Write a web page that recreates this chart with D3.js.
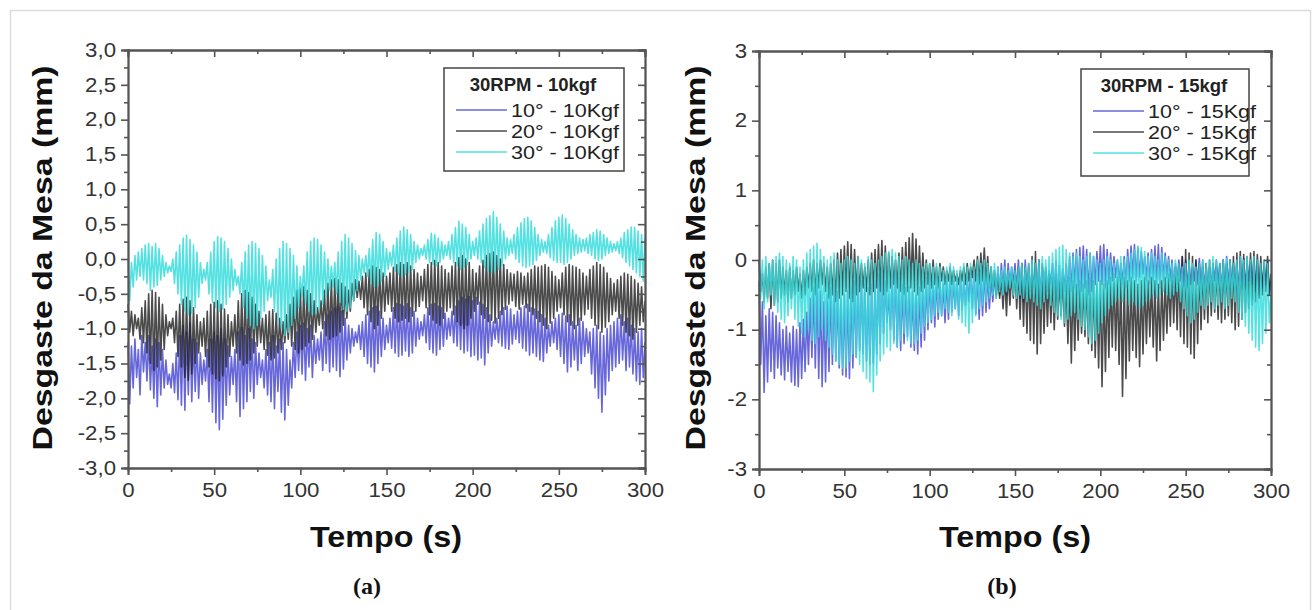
<!DOCTYPE html>
<html><head><meta charset="utf-8">
<script src="https://cdn.jsdelivr.net/npm/d3@7"></script>
<style>
body{margin:0;background:#fff}
svg{display:block}
text{font-family:"Liberation Sans",Arial,sans-serif}
</style>
</head><body>
<svg id="c" width="1312" height="610"></svg>
<script>
// ---------- data ----------
const timeStart = 0, timeStep = 1;          // seconds per sample
const xTicks = [0, 50, 100, 150, 200, 250, 300];
const xMinor = [25, 75, 125, 175, 225, 275];
const yTicksA = [-3, -2.5, -2, -1.5, -1, -0.5, 0, 0.5, 1, 1.5, 2, 2.5, 3];
const yMinorA = [-2.75, -2.25, -1.75, -1.25, -0.75, -0.25, 0.25, 0.75, 1.25, 1.75, 2.25, 2.75];
const yTicksB = [-3, -2, -1, 0, 1, 2, 3];
const yMinorB = [-2.5, -1.5, -0.5, 0.5, 1.5, 2.5];
const legendTitleA = "30RPM - 10kgf";
const legendTitleB = "30RPM - 15kgf";
const namesA = ["10° - 10Kgf", "20° - 10Kgf", "30° - 10Kgf"];
const namesB = ["10° - 15Kgf", "20° - 15Kgf", "30° - 15Kgf"];
const xTitle = "Tempo (s)";
const yTitle = "Desgaste da Mesa (mm)";

// (a) 30RPM - 10kgf
const a10 = [
-1.20,-2.08,-1.25,-1.85,-1.15,-1.70,-1.30,-1.95,-1.10,-1.62,
-1.20,-1.75,-1.10,-1.88,-1.25,-2.00,-1.15,-2.12,-1.20,-1.95,
-1.30,-1.85,-1.45,-1.80,-1.65,-1.85,-1.50,-1.92,-1.35,-2.02,
-1.10,-2.10,-0.95,-2.17,-1.05,-1.95,-0.92,-2.05,-1.15,-1.90,
-1.20,-2.00,-1.35,-1.80,-1.45,-1.75,-1.30,-2.05,-1.15,-2.20,
-1.05,-2.35,-1.10,-2.45,-1.00,-2.30,-1.15,-2.10,-1.25,-1.95,
-1.40,-1.80,-1.30,-2.05,-1.05,-2.26,-0.98,-2.15,-1.10,-2.05,
-1.00,-1.90,-1.15,-2.00,-1.20,-1.80,-1.35,-1.70,-1.45,-1.85,
-1.30,-1.95,-1.20,-2.05,-1.10,-2.15,-1.25,-1.90,-1.15,-2.20,
-1.20,-2.31,-1.30,-2.10,-1.45,-1.85,-1.20,-1.70,-1.05,-1.60,
-0.95,-1.65,-0.92,-1.74,-1.00,-1.55,-0.95,-1.70,-1.10,-1.50,
-1.15,-1.45,-1.05,-1.60,-0.90,-1.50,-0.80,-1.62,-0.75,-1.55,
-0.70,-1.60,-0.68,-1.69,-0.75,-1.58,-0.85,-1.45,-0.95,-1.35,
-1.00,-1.25,-1.05,-1.20,-0.95,-1.30,-0.90,-1.40,-0.80,-1.50,
-0.75,-1.55,-0.70,-1.62,-0.68,-1.50,-0.75,-1.40,-0.85,-1.30,
-0.95,-1.20,-0.85,-1.28,-0.70,-1.35,-0.64,-1.40,-0.65,-1.38,
-0.68,-1.32,-0.64,-1.40,-0.70,-1.35,-0.75,-1.25,-0.85,-1.15,
-0.90,-1.10,-0.80,-1.20,-0.70,-1.30,-0.65,-1.35,-0.64,-1.38,
-0.68,-1.30,-0.70,-1.25,-0.78,-1.15,-0.85,-1.10,-0.75,-1.20,
-0.68,-1.25,-0.60,-1.30,-0.55,-1.35,-0.58,-1.32,-0.54,-1.40,
-0.60,-1.38,-0.55,-1.45,-0.62,-1.42,-0.65,-1.52,-0.70,-1.35,
-0.80,-1.25,-0.90,-1.15,-0.85,-1.20,-0.75,-1.25,-0.70,-1.28,
-0.68,-1.30,-0.72,-1.22,-0.80,-1.15,-0.75,-1.20,-0.70,-1.28,
-0.68,-1.32,-0.65,-1.38,-0.70,-1.35,-0.72,-1.40,-0.75,-1.45,
-0.80,-1.47,-0.85,-1.35,-0.95,-1.25,-0.90,-1.20,-0.85,-1.30,
-0.80,-1.40,-0.78,-1.50,-0.82,-1.62,-0.80,-1.55,-0.90,-1.45,
-0.95,-1.60,-0.85,-1.50,-0.90,-1.40,-1.00,-1.35,-1.05,-1.65,
-1.00,-1.85,-0.95,-2.00,-1.05,-2.20,-1.10,-1.95,-1.00,-1.75,
-0.95,-1.60,-0.90,-1.55,-0.85,-1.50,-0.80,-1.45,-0.90,-1.60,
-0.85,-1.55,-0.95,-1.65,-1.00,-1.75,-1.05,-1.80,-1.00,-1.70,
-1.20];
const a20 = [
-0.65,-1.05,-0.75,-1.10,-0.80,-1.00,-0.85,-1.15,-0.70,-1.20,
-0.60,-1.35,-0.50,-1.50,-0.45,-1.60,-0.48,-1.55,-0.55,-1.45,
-0.65,-1.30,-0.80,-1.10,-0.90,-1.00,-0.85,-1.20,-0.75,-1.40,
-0.65,-1.55,-0.58,-1.70,-0.55,-1.74,-0.60,-1.65,-0.70,-1.50,
-0.80,-1.35,-0.90,-1.25,-0.85,-1.40,-0.75,-1.55,-0.65,-1.65,
-0.62,-1.72,-0.60,-1.75,-0.65,-1.68,-0.72,-1.55,-0.80,-1.40,
-0.90,-1.25,-0.80,-1.35,-0.60,-1.45,-0.50,-1.52,-0.45,-1.50,
-0.48,-1.45,-0.55,-1.35,-0.65,-1.25,-0.75,-1.20,-0.85,-1.30,
-0.80,-1.38,-0.75,-1.45,-0.73,-1.42,-0.78,-1.35,-0.85,-1.30,
-0.90,-1.20,-0.80,-1.15,-0.65,-1.25,-0.55,-1.30,-0.45,-1.35,
-0.42,-1.30,-0.40,-1.25,-0.45,-1.20,-0.50,-1.15,-0.60,-1.05,
-0.70,-0.95,-0.60,-1.00,-0.45,-1.10,-0.35,-1.15,-0.30,-1.12,
-0.28,-1.10,-0.30,-1.05,-0.35,-0.95,-0.40,-0.85,-0.45,-0.75,
-0.35,-0.60,-0.30,-0.55,-0.32,-0.58,-0.25,-0.70,-0.20,-0.80,
-0.15,-0.90,-0.10,-1.00,-0.12,-0.95,-0.15,-0.85,-0.20,-0.75,
-0.25,-0.65,-0.20,-0.75,-0.12,-0.85,-0.08,-0.90,-0.05,-0.88,
-0.08,-0.85,-0.05,-0.90,-0.10,-0.82,-0.15,-0.75,-0.20,-0.68,
-0.25,-0.60,-0.15,-0.70,-0.08,-0.80,-0.05,-0.88,-0.02,-0.92,
-0.05,-0.95,-0.10,-0.85,-0.15,-0.75,-0.20,-0.70,-0.10,-0.80,
-0.05,-0.90,0.02,-0.95,0.05,-1.00,0.00,-0.95,-0.05,-0.85,
-0.15,-0.75,-0.20,-0.65,-0.10,-0.80,-0.02,-0.85,0.05,-0.90,
0.08,-0.88,0.10,-0.92,0.05,-0.85,0.00,-0.80,-0.08,-0.72,
-0.15,-0.65,-0.20,-0.60,-0.22,-0.68,-0.18,-0.72,-0.20,-0.65,
-0.25,-0.70,-0.20,-0.75,-0.15,-0.80,-0.10,-0.85,-0.12,-0.90,
-0.10,-0.95,-0.08,-1.00,-0.12,-0.92,-0.18,-0.85,-0.25,-0.75,
-0.30,-0.70,-0.20,-0.80,-0.12,-0.90,-0.08,-0.95,-0.10,-1.00,
-0.12,-0.95,-0.15,-0.88,-0.20,-0.80,-0.25,-0.72,-0.15,-0.85,
-0.10,-0.95,-0.05,-1.00,-0.08,-1.05,-0.12,-0.98,-0.20,-0.90,
-0.28,-0.80,-0.35,-0.75,-0.30,-0.85,-0.25,-0.95,-0.20,-1.05,
-0.22,-1.10,-0.25,-1.15,-0.30,-1.05,-0.35,-0.95,-0.40,-0.90,
-0.60];
const a30 = [
0.00,-0.60,-0.05,-0.40,0.05,-0.30,0.10,-0.25,0.15,-0.30,
0.20,-0.35,0.22,-0.45,0.18,-0.40,0.22,-0.38,0.15,-0.30,
0.05,-0.25,-0.05,-0.20,-0.10,-0.18,0.00,-0.35,0.10,-0.50,
0.20,-0.65,0.30,-0.75,0.34,-0.80,0.28,-0.78,0.20,-0.70,
0.10,-0.55,-0.05,-0.35,-0.15,-0.30,-0.05,-0.50,0.10,-0.62,
0.25,-0.70,0.32,-0.75,0.30,-0.72,0.25,-0.65,0.15,-0.55,
0.00,-0.45,-0.15,-0.38,-0.25,-0.50,-0.05,-0.70,0.10,-0.85,
0.20,-0.95,0.25,-1.00,0.22,-0.95,0.15,-0.85,0.05,-0.75,
-0.10,-0.60,-0.30,-0.55,-0.15,-0.75,0.00,-0.90,0.15,-1.00,
0.25,-1.10,0.22,-1.05,0.15,-0.95,0.05,-0.85,-0.10,-0.70,
-0.25,-0.55,-0.10,-0.65,0.10,-0.75,0.25,-0.80,0.30,-0.78,
0.28,-0.72,0.20,-0.65,0.10,-0.55,0.00,-0.45,-0.10,-0.40,
-0.05,-0.50,0.10,-0.62,0.25,-0.72,0.35,-0.75,0.30,-0.70,
0.22,-0.60,0.12,-0.45,0.05,-0.30,0.00,-0.20,0.05,-0.25,
0.15,-0.35,0.28,-0.40,0.38,-0.38,0.35,-0.32,0.25,-0.25,
0.15,-0.15,0.10,-0.10,0.20,-0.18,0.30,-0.22,0.40,-0.25,
0.46,-0.22,0.42,-0.20,0.35,-0.15,0.25,-0.05,0.20,0.00,
0.15,0.05,0.20,0.00,0.28,-0.05,0.37,-0.08,0.35,-0.10,
0.30,-0.05,0.25,0.00,0.20,0.05,0.25,0.00,0.35,-0.05,
0.45,-0.10,0.54,-0.15,0.50,-0.12,0.45,-0.08,0.35,0.00,
0.25,0.05,0.30,0.00,0.40,-0.05,0.50,-0.12,0.58,-0.18,
0.62,-0.20,0.68,-0.18,0.60,-0.15,0.50,-0.10,0.40,0.00,
0.30,0.05,0.28,0.08,0.35,0.00,0.45,-0.05,0.52,-0.10,
0.58,-0.12,0.60,-0.10,0.55,-0.08,0.45,-0.02,0.35,0.05,
0.28,0.10,0.25,0.08,0.35,0.02,0.45,-0.02,0.55,-0.05,
0.60,-0.05,0.63,-0.08,0.58,-0.05,0.50,0.00,0.42,0.05,
0.35,0.08,0.30,0.10,0.28,0.12,0.30,0.08,0.35,0.05,
0.38,0.00,0.42,-0.02,0.40,0.00,0.35,0.05,0.30,0.08,
0.25,0.10,0.22,0.12,0.25,0.08,0.30,0.02,0.38,-0.05,
0.42,-0.10,0.46,-0.15,0.45,-0.20,0.40,-0.25,0.35,-0.32,
0.30];

// (b) 30RPM - 15kgf
const b10 = [
-0.30,-1.50,-0.60,-1.90,-0.80,-1.75,-0.70,-1.60,-0.75,-1.70,
-0.80,-1.55,-0.90,-1.65,-1.00,-1.72,-0.95,-1.60,-1.05,-1.75,
-0.95,-1.80,-1.00,-1.82,-0.90,-1.70,-0.85,-1.60,-0.75,-1.50,
-0.55,-1.40,-0.40,-1.55,-0.35,-1.70,-0.45,-1.82,-0.60,-1.75,
-0.50,-1.60,-0.40,-1.50,-0.35,-1.45,-0.45,-1.55,-0.55,-1.65,
-0.50,-1.68,-0.45,-1.70,-0.40,-1.55,-0.30,-1.40,-0.25,-1.30,
-0.30,-1.35,-0.35,-1.45,-0.40,-1.50,-0.35,-1.48,-0.30,-1.35,
-0.20,-1.20,-0.10,-1.05,-0.30,-0.90,-0.50,-1.00,-0.20,-1.15,
-0.15,-1.25,-0.25,-1.30,-0.35,-1.20,-0.40,-1.10,-0.38,-1.25,
-0.45,-1.30,-0.50,-1.35,-0.40,-1.25,-0.30,-1.15,-0.25,-1.00,
-0.25,-0.90,-0.30,-0.96,-0.24,-0.85,-0.30,-0.80,-0.35,-0.90,
-0.25,-0.85,-0.20,-0.75,-0.30,-0.70,-0.25,-0.80,-0.20,-0.72,
-0.30,-0.65,-0.25,-0.60,-0.15,-0.70,-0.10,-0.78,-0.20,-0.85,
-0.15,-0.80,-0.10,-0.75,-0.20,-0.70,-0.25,-0.60,-0.20,-0.55,
-0.10,-0.50,-0.05,-0.45,0.00,-0.50,-0.05,-0.40,-0.10,-0.35,
-0.05,-0.45,0.00,-0.55,-0.05,-0.60,0.00,-0.50,-0.10,-0.45,
-0.15,-0.40,-0.05,-0.55,0.00,-0.60,-0.05,-0.50,-0.10,-0.45,
-0.15,-0.35,-0.05,-0.50,-0.02,-0.60,-0.08,-0.55,-0.12,-0.45,
-0.05,-0.50,0.05,-0.45,0.10,-0.40,0.15,-0.50,0.18,-0.45,
0.20,-0.40,0.15,-0.50,0.10,-0.45,0.05,-0.35,0.12,-0.30,
0.20,-0.35,0.22,-0.40,0.15,-0.35,0.10,-0.30,0.05,-0.25,
0.00,-0.30,-0.05,-0.35,0.05,-0.40,0.15,-0.30,0.20,-0.25,
0.22,-0.30,0.18,-0.25,0.12,-0.20,0.05,-0.30,0.10,-0.35,
0.15,-0.30,0.20,-0.35,0.22,-0.40,0.18,-0.30,0.10,-0.25,
0.05,-0.30,0.00,-0.40,-0.05,-0.35,0.00,-0.30,0.05,-0.38,
0.00,-0.40,-0.05,-0.35,-0.10,-0.30,0.00,-0.35,0.02,-0.42,
0.00,-0.45,-0.05,-0.50,-0.10,-0.40,-0.05,-0.30,0.00,-0.35,
-0.05,-0.45,0.00,-0.50,0.05,-0.40,0.00,-0.35,-0.05,-0.45,
0.00,-0.50,0.05,-0.45,0.02,-0.40,-0.05,-0.30,0.00,-0.35,
0.02,-0.45,0.00,-0.50,-0.05,-0.40,-0.10,-0.35,0.00,-0.50,
-0.30];
const b20 = [
0.00,-0.45,-0.20,-0.60,-0.10,-0.55,-0.05,-0.70,0.00,-0.65,
-0.05,-0.60,0.00,-0.55,-0.10,-0.50,-0.15,-0.60,-0.10,-0.55,
-0.15,-0.50,-0.10,-0.45,-0.20,-0.55,-0.15,-0.50,-0.10,-0.40,
-0.05,-0.45,0.00,-0.50,-0.05,-0.40,0.00,-0.35,-0.05,-0.45,
-0.10,-0.55,-0.05,-0.50,0.00,-0.60,0.10,-0.55,0.15,-0.50,
0.20,-0.45,0.26,-0.55,0.22,-0.60,0.15,-0.50,0.05,-0.45,
-0.05,-0.40,-0.10,-0.45,0.00,-0.50,0.10,-0.45,0.15,-0.40,
0.22,-0.45,0.28,-0.50,0.20,-0.45,0.10,-0.40,0.05,-0.35,
0.00,-0.40,0.10,-0.45,0.18,-0.50,0.25,-0.45,0.32,-0.40,
0.38,-0.45,0.30,-0.50,0.20,-0.45,0.10,-0.40,0.00,-0.35,
-0.05,-0.40,0.00,-0.35,-0.10,-0.40,-0.05,-0.30,-0.10,-0.35,
-0.15,-0.30,-0.10,-0.35,-0.15,-0.30,-0.20,-0.35,-0.15,-0.30,
-0.10,-0.35,-0.05,-0.30,-0.10,-0.25,0.00,-0.30,0.05,-0.35,
0.10,-0.30,0.17,-0.35,0.05,-0.40,-0.10,-0.45,-0.15,-0.50,
-0.20,-0.55,-0.25,-0.70,-0.20,-0.80,-0.15,-0.65,-0.20,-0.55,
-0.15,-0.70,-0.10,-0.85,-0.05,-0.95,-0.10,-1.05,-0.05,-1.15,
0.05,-1.20,0.12,-1.35,0.00,-1.20,-0.10,-1.05,-0.15,-0.95,
-0.20,-0.90,-0.25,-1.00,-0.20,-0.85,-0.30,-0.80,-0.25,-0.95,
-0.30,-1.20,-0.25,-1.48,-0.30,-1.30,-0.35,-1.15,-0.30,-1.05,
-0.35,-1.10,-0.30,-1.20,-0.25,-1.30,-0.30,-1.40,-0.35,-1.55,
-0.30,-1.82,-0.35,-1.60,-0.30,-1.40,-0.25,-1.25,-0.20,-1.30,
-0.25,-1.50,-0.20,-1.96,-0.25,-1.70,-0.30,-1.45,-0.25,-1.30,
-0.30,-1.40,-0.35,-1.53,-0.30,-1.35,-0.25,-1.20,-0.30,-1.10,
-0.25,-1.25,-0.30,-1.45,-0.35,-1.30,-0.30,-1.15,-0.25,-1.05,
-0.20,-0.95,-0.15,-0.90,-0.10,-1.00,-0.05,-1.10,0.05,-1.20,
0.15,-1.25,0.10,-1.35,0.05,-1.41,0.00,-1.20,-0.05,-1.00,
-0.10,-0.85,-0.05,-0.90,0.00,-0.80,-0.05,-0.75,-0.10,-0.85,
-0.05,-0.90,0.00,-0.85,-0.05,-0.80,0.00,-0.90,0.05,-1.00,
0.10,-0.95,0.12,-0.85,0.08,-0.75,0.05,-0.70,0.10,-0.65,
0.12,-0.60,0.08,-0.55,0.05,-0.50,0.00,-0.45,0.05,-0.50,
-0.20];
const b30 = [
-0.10,-0.55,0.00,-0.70,0.05,-0.60,-0.05,-0.50,0.00,-0.65,
0.05,-0.75,0.10,-0.85,0.05,-0.90,0.00,-0.80,-0.05,-0.70,
0.05,-0.85,0.00,-0.95,-0.10,-1.05,0.00,-1.10,0.10,-1.00,
0.15,-1.15,0.20,-1.20,0.24,-1.10,0.15,-1.00,0.05,-1.15,
0.00,-1.25,0.05,-1.35,0.10,-1.45,0.00,-1.50,-0.05,-1.55,
0.00,-1.55,0.05,-1.45,0.00,-1.35,-0.05,-1.40,0.05,-1.50,
0.00,-1.60,-0.05,-1.70,0.05,-1.75,0.00,-1.89,-0.05,-1.65,
0.00,-1.45,0.05,-1.35,0.10,-1.25,0.12,-1.30,0.15,-1.20,
0.10,-1.25,0.05,-1.15,0.00,-1.05,0.05,-1.15,0.00,-1.20,
-0.05,-1.20,0.00,-1.15,-0.05,-1.05,-0.10,-0.95,-0.05,-0.90,
-0.05,-0.85,-0.10,-0.80,-0.05,-0.75,-0.10,-0.80,-0.15,-0.70,
-0.10,-0.75,-0.05,-0.80,-0.10,-0.70,-0.15,-0.85,-0.10,-0.90,
-0.05,-0.95,-0.10,-1.05,-0.05,-0.90,-0.10,-0.80,0.00,-0.70,
-0.05,-0.65,0.00,-0.60,-0.05,-0.55,-0.10,-0.50,-0.05,-0.55,
-0.10,-0.45,-0.15,-0.50,-0.10,-0.45,-0.15,-0.40,-0.10,-0.50,
-0.15,-0.55,-0.10,-0.50,-0.05,-0.55,-0.10,-0.60,-0.05,-0.55,
0.00,-0.60,-0.05,-0.65,0.00,-0.70,0.05,-0.60,0.00,-0.55,
0.05,-0.65,0.10,-0.75,0.15,-0.80,0.18,-0.85,0.21,-0.90,
0.15,-0.85,0.10,-0.80,0.05,-0.75,0.10,-0.85,0.05,-0.95,
0.00,-1.00,0.05,-1.10,0.10,-1.20,0.05,-1.15,0.00,-1.05,
-0.05,-0.90,0.00,-0.80,0.05,-0.70,0.00,-0.65,-0.05,-0.60,
0.00,-0.55,0.05,-0.60,0.00,-0.55,0.05,-0.65,0.10,-0.60,
0.15,-0.65,0.20,-0.70,0.18,-0.65,0.12,-0.60,0.05,-0.55,
0.10,-0.50,0.05,-0.55,0.00,-0.50,0.10,-0.45,0.05,-0.50,
0.00,-0.55,-0.05,-0.50,0.00,-0.45,-0.05,-0.60,-0.10,-0.70,
-0.05,-0.80,0.00,-0.90,-0.05,-0.85,-0.10,-0.75,-0.05,-0.65,
0.00,-0.70,-0.05,-0.65,0.00,-0.60,0.05,-0.70,0.00,-0.65,
-0.05,-0.60,0.00,-0.70,0.02,-0.65,0.00,-0.55,-0.05,-0.60,
0.00,-0.75,0.05,-0.85,0.00,-0.95,0.05,-1.05,0.00,-1.15,
0.05,-1.25,0.00,-1.30,-0.05,-1.20,0.00,-1.05,-0.05,-0.90,
-0.50];

// ---------- styles ----------
const seriesColors = ["#3c3cd0", "#1e1e1e", "#36dcdc"];
const seriesOpacity = [0.78, 0.8, 0.85];
const axisColor = "#555";
const labelColor = "#333";

const svg = d3.select("#c");

// page frame
svg.append("rect").attr("x", 10.5).attr("y", 10.5).attr("width", 1300).attr("height", 620)
  .attr("fill", "none").attr("stroke", "#dcdcdc").attr("stroke-width", 1.5);

const panels = [
  {box: {l: 128, r: 645, t: 50, b: 468}, yTicks: yTicksA, yMinor: yMinorA,
   fmt: v => v.toFixed(1).replace(".", ","),
   series: [a10, a20, a30], names: namesA, legendTitle: legendTitleA,
   legend: {x: 444, y: 68, w: 180, h: 103},
   yLabel: {x: 43, y: 258}, xLabel: {x: 386, y: 547}, tag: "(a)", tagX: 367},
  {box: {l: 759, r: 1271, t: 51, b: 469}, yTicks: yTicksB, yMinor: yMinorB,
   fmt: v => String(v),
   series: [b10, b20, b30], names: namesB, legendTitle: legendTitleB,
   legend: {x: 1081, y: 69, w: 168, h: 107},
   yLabel: {x: 696, y: 258}, xLabel: {x: 1015, y: 547}, tag: "(b)", tagX: 1002}
];

function styleAxis(g) {
  g.select(".domain").attr("stroke", axisColor).attr("stroke-width", 1.8);
  g.selectAll(".tick line").attr("stroke", axisColor).attr("stroke-width", 1.6);
  g.selectAll(".tick text").attr("fill", labelColor).style("font-size", "19.5px");
}

panels.forEach(p => {
  const B = p.box;
  const x = d3.scaleLinear().domain([0, 300]).range([B.l, B.r]);
  const y = d3.scaleLinear().domain([-3, 3]).range([B.b, B.t]);
  const g = svg.append("g");

  // series
  const line = d3.line().x((d, i) => x(timeStart + i * timeStep)).y(d => y(d));
  p.series.forEach((s, k) => {
    g.append("path").datum(s).attr("d", line).attr("fill", "none")
      .attr("stroke", seriesColors[k]).attr("stroke-opacity", seriesOpacity[k])
      .attr("stroke-width", 1.6).attr("stroke-linejoin", "round");
  });

  // axes: bottom & left outward, top & right inward
  const gb = g.append("g").attr("transform", `translate(0,${B.b})`)
    .call(d3.axisBottom(x).tickValues(xTicks).tickSize(7).tickPadding(8).tickFormat(d3.format("d")));
  styleAxis(gb);
  const gbm = g.append("g").attr("transform", `translate(0,${B.b})`)
    .call(d3.axisBottom(x).tickValues(xMinor).tickSize(4).tickFormat(""));
  styleAxis(gbm);
  const gt = g.append("g").attr("transform", `translate(0,${B.t})`)
    .call(d3.axisTop(x).tickValues(xTicks).tickSize(-7).tickFormat(""));
  styleAxis(gt);
  const gtm = g.append("g").attr("transform", `translate(0,${B.t})`)
    .call(d3.axisTop(x).tickValues(xMinor).tickSize(-4).tickFormat(""));
  styleAxis(gtm);

  const gl = g.append("g").attr("transform", `translate(${B.l},0)`)
    .call(d3.axisLeft(y).tickValues(p.yTicks).tickSize(7).tickPadding(5).tickFormat(p.fmt));
  styleAxis(gl);
  const glm = g.append("g").attr("transform", `translate(${B.l},0)`)
    .call(d3.axisLeft(y).tickValues(p.yMinor).tickSize(4).tickFormat(""));
  styleAxis(glm);
  const gr = g.append("g").attr("transform", `translate(${B.r},0)`)
    .call(d3.axisRight(y).tickValues(p.yTicks).tickSize(-7).tickFormat(""));
  styleAxis(gr);
  const grm = g.append("g").attr("transform", `translate(${B.r},0)`)
    .call(d3.axisRight(y).tickValues(p.yMinor).tickSize(-4).tickFormat(""));
  styleAxis(grm);

  // widen tick labels slightly to match reference glyph widths
  g.selectAll(".tick text").each(function () {
    const t = d3.select(this);
    if (!t.text()) return;
    const w = this.getComputedTextLength();
    t.attr("textLength", w * 1.14).attr("lengthAdjust", "spacingAndGlyphs");
  });

  // legend
  const L = p.legend;
  const lg = g.append("g");
  lg.append("rect").attr("x", L.x).attr("y", L.y).attr("width", L.w).attr("height", L.h)
    .attr("fill", "#fff").attr("stroke", "#444").attr("stroke-width", 1.5);
  lg.append("text").attr("x", L.x + L.w / 2 - 1).attr("y", L.y + 23).attr("text-anchor", "middle")
    .style("font-size", "18.5px").style("font-weight", "bold").attr("fill", "#222").text(p.legendTitle);
  p.names.forEach((n, k) => {
    const yy = L.y + 42 + k * 21;
    lg.append("line").attr("x1", L.x + 12).attr("x2", L.x + 63).attr("y1", yy).attr("y2", yy)
      .attr("stroke", seriesColors[k]).attr("stroke-opacity", seriesOpacity[k]).attr("stroke-width", 1.6);
    const tx = lg.append("text").attr("x", L.x + 67).attr("y", yy + 7)
      .style("font-size", "19px").attr("fill", "#222").text(n);
    tx.attr("textLength", 108).attr("lengthAdjust", "spacingAndGlyphs");
  });

  // axis titles
  g.append("text").attr("transform", `translate(${p.yLabel.x},${p.yLabel.y}) rotate(-90)`)
    .attr("text-anchor", "middle").attr("dominant-baseline", "central")
    .style("font-size", "27px").style("font-weight", "bold").attr("fill", "#111")
    .attr("textLength", 385).attr("lengthAdjust", "spacingAndGlyphs").text(yTitle);
  g.append("text").attr("x", p.xLabel.x).attr("y", p.xLabel.y).attr("text-anchor", "middle")
    .style("font-size", "30px").style("font-weight", "bold").attr("fill", "#111")
    .attr("textLength", 152).attr("lengthAdjust", "spacingAndGlyphs").text(xTitle);
  g.append("text").attr("x", p.tagX).attr("y", 594).attr("text-anchor", "middle")
    .style("font-family", "'Liberation Serif','Times New Roman',serif")
    .style("font-size", "24px").style("font-weight", "bold").attr("fill", "#111").text(p.tag);
});
</script>
</body></html>
